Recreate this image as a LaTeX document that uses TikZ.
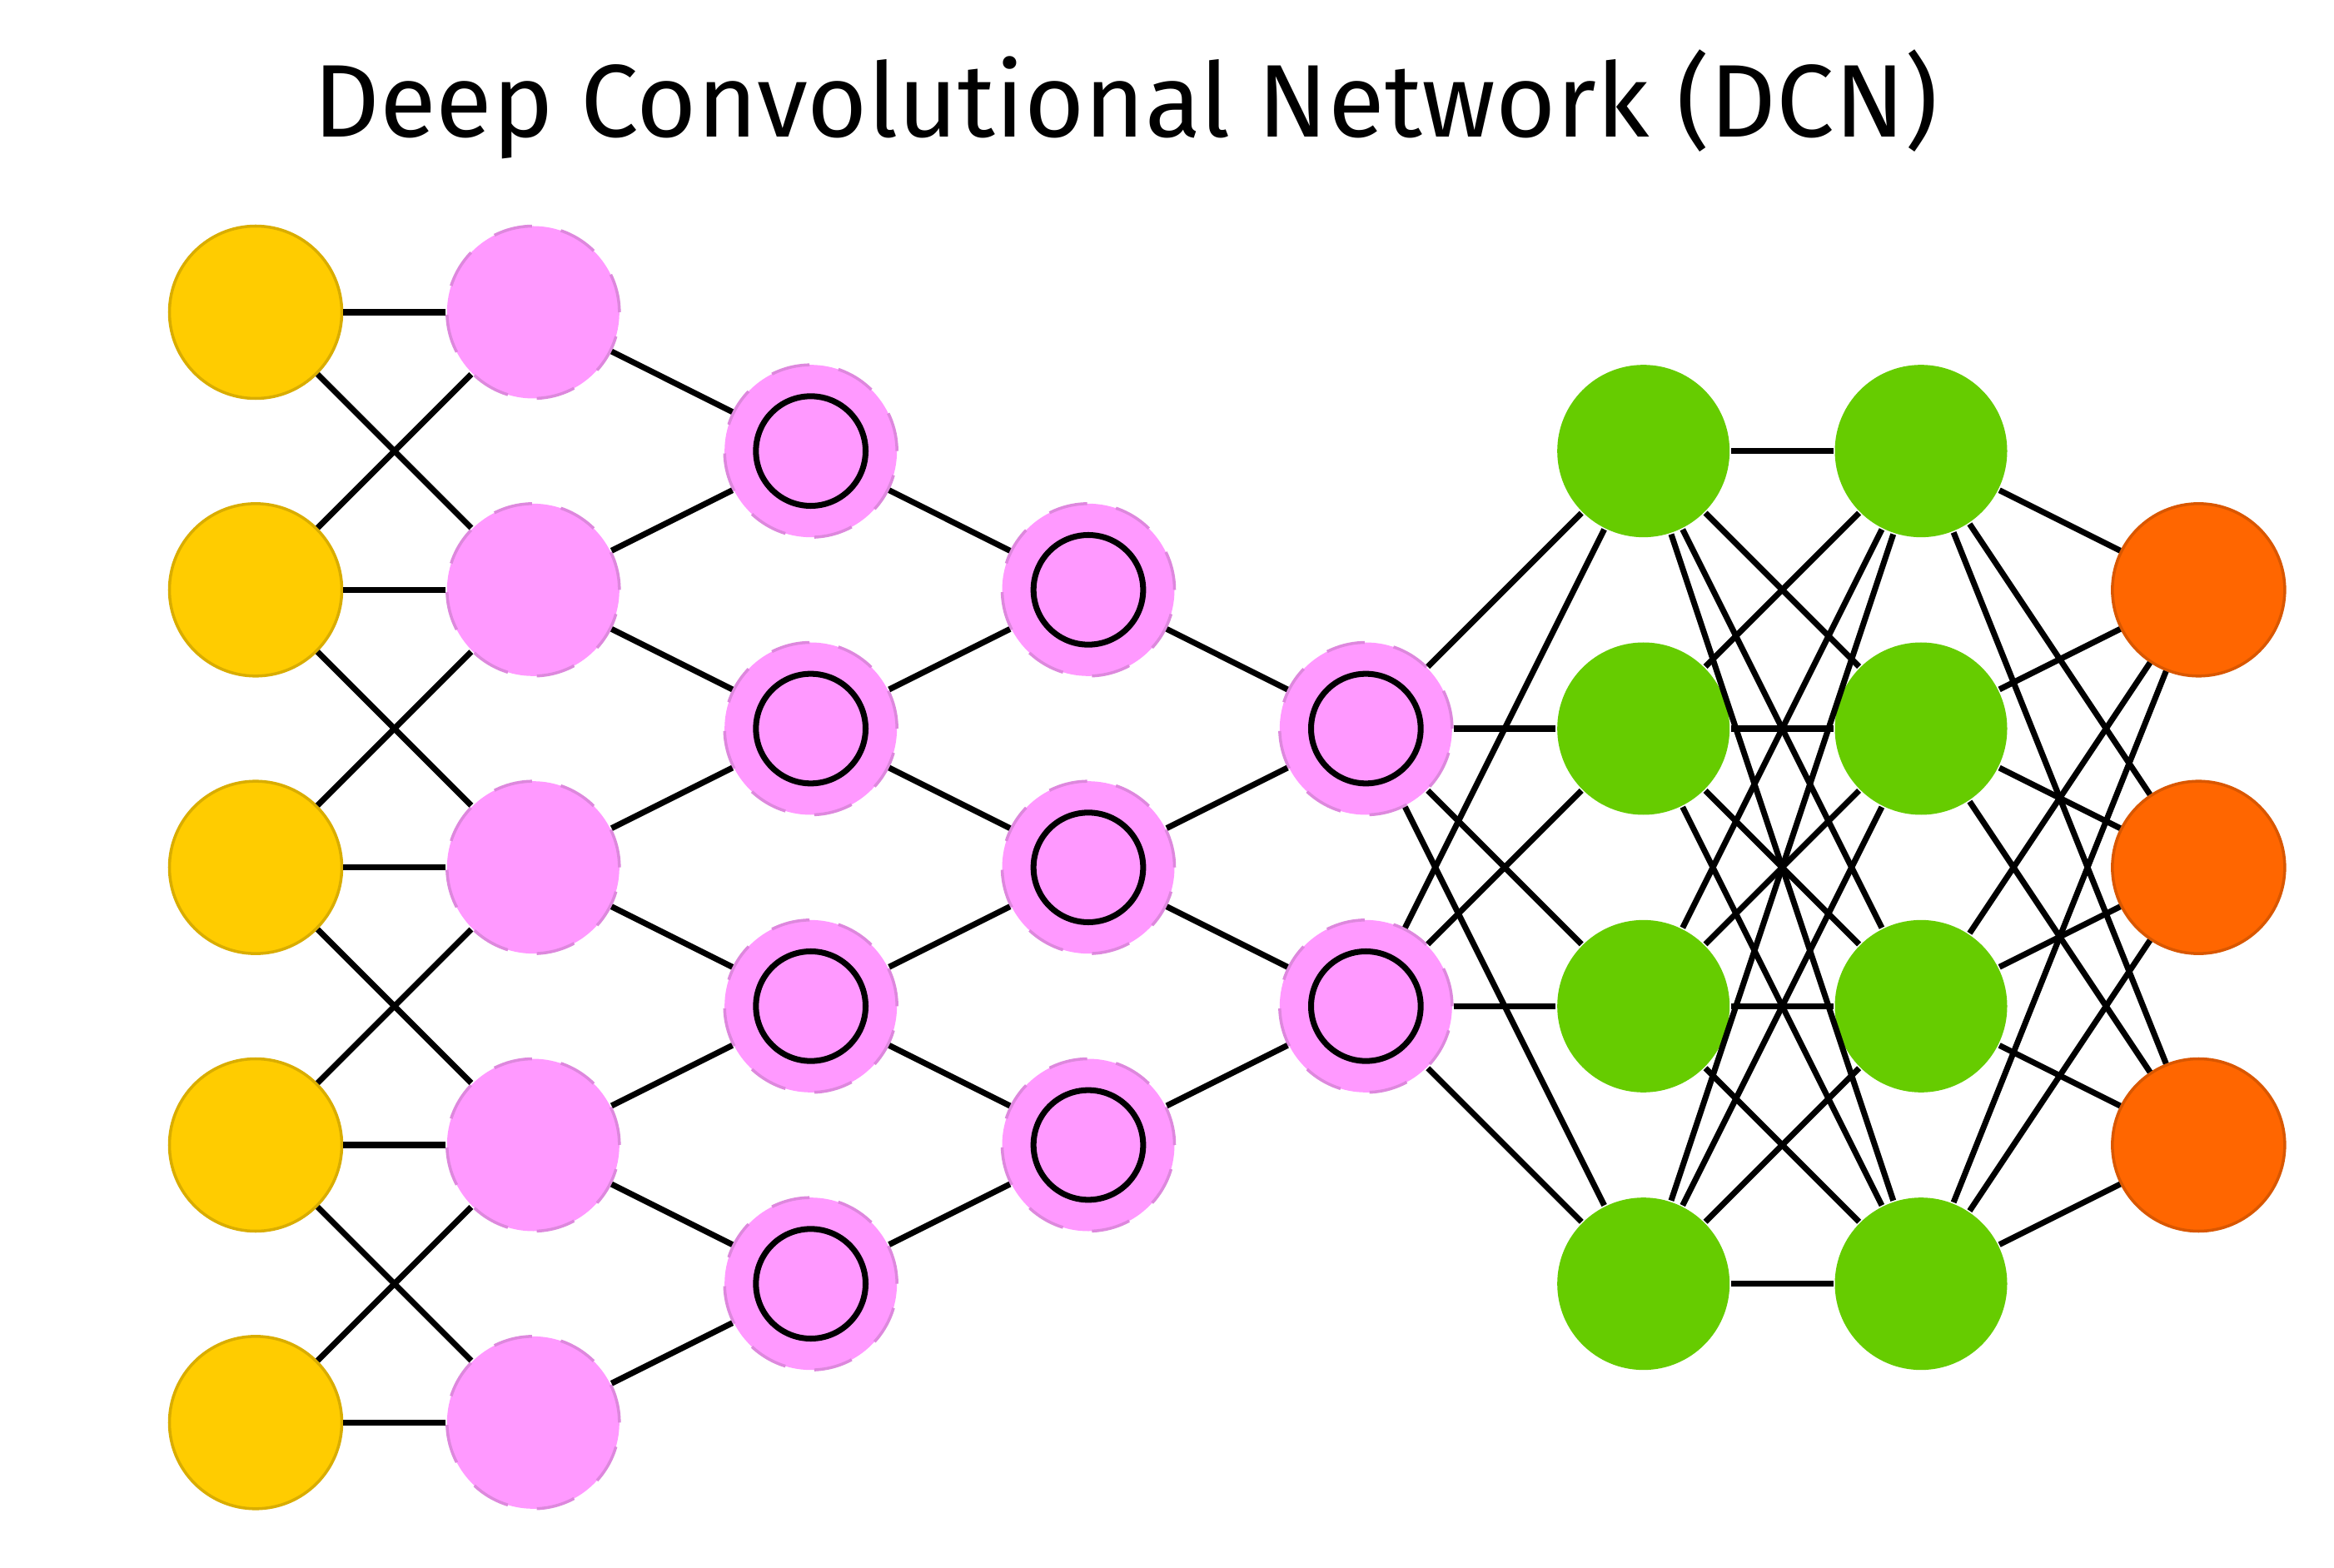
\documentclass[tikz,border=0pt]{standalone}
\usepackage{fontspec}
\newfontfamily\titlefont{Fira Sans}
\definecolor{yellowC}{HTML}{FFCC00}
\definecolor{yellowB}{HTML}{D9AD00}
\definecolor{pinkC}{HTML}{FF99FF}
\definecolor{pinkB}{HTML}{DD88DD}
\definecolor{greenC}{HTML}{66CC00}
\definecolor{orangeC}{HTML}{FF6600}
\definecolor{orangeB}{HTML}{D95700}
\begin{document}
\begin{tikzpicture}[x=1cm,y=1cm,
  base/.style={circle, minimum size=1.242cm, inner sep=0pt, line width=0.6pt},
  inp/.style={base, fill=yellowC, draw=yellowB},
  hid/.style={base, fill=pinkC, draw=pinkB, dash pattern=on 8pt off 6pt},
  conv/.style={hid, path picture={\draw[black, solid, line width=1.2pt] (path picture bounding box.center) circle (0.395cm);}},
  fc/.style={base, fill=greenC},
  outp/.style={base, fill=orangeC, draw=orangeB},
  edge/.style={line width=1.2pt, black}]
\fill[white] (0,0) rectangle (16.818,11.292);
\useasboundingbox (0,0) rectangle (16.818,11.292);
\node[anchor=base west, inner sep=0pt] (title) at (2.25,10.305)
  {\resizebox{11.71cm}{!}{\titlefont Deep Convolutional Network (DCN)}};
% nodes
\foreach \k in {0,...,4}{
  \node[inp] (a\k) at (1.842, 9.042-2*\k) {};
  \node[hid] (b\k) at (3.842, 9.042-2*\k) {};
}
\foreach \k in {0,...,3}{
  \node[conv] (c\k) at (5.842, 8.042-2*\k) {};
  \node[fc] (f\k) at (11.842, 8.042-2*\k) {};
  \node[fc] (g\k) at (13.842, 8.042-2*\k) {};
}
\foreach \k in {0,...,2}{
  \node[conv] (d\k) at (7.842, 7.042-2*\k) {};
  \node[outp] (h\k) at (15.842, 7.042-2*\k) {};
}
\foreach \k in {0,1}{
  \node[conv] (e\k) at (9.842, 6.042-2*\k) {};
}
% edges
\foreach \i in {0,...,4}{\draw[edge] (a\i) -- (b\i);}
\foreach \i in {0,...,3}{\pgfmathtruncatemacro\j{\i+1}
  \draw[edge] (a\i) -- (b\j); \draw[edge] (a\j) -- (b\i);
  \draw[edge] (b\i) -- (c\i); \draw[edge] (b\j) -- (c\i);}
\foreach \i in {0,...,2}{\pgfmathtruncatemacro\j{\i+1}
  \draw[edge] (c\i) -- (d\i); \draw[edge] (c\j) -- (d\i);}
\foreach \i in {0,1}{\pgfmathtruncatemacro\j{\i+1}
  \draw[edge] (d\i) -- (e\i); \draw[edge] (d\j) -- (e\i);}
\foreach \i in {0,1}{\foreach \j in {0,...,3}{\draw[edge] (e\i) -- (f\j);}}
\foreach \i in {0,...,3}{\foreach \j in {0,...,3}{\draw[edge] (f\i) -- (g\j);}}
\foreach \i in {0,...,3}{\foreach \j in {0,...,2}{\draw[edge] (g\i) -- (h\j);}}
\end{tikzpicture}
\end{document}
